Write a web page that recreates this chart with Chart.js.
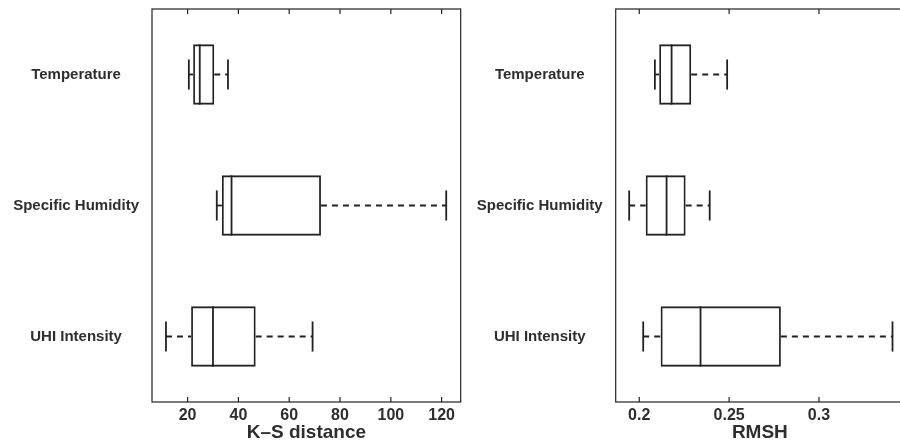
<!DOCTYPE html>
<html>
<head>
<meta charset="utf-8">
<script src="https://cdn.jsdelivr.net/npm/chart.js@4"></script>
<style>
  body { margin: 0; width: 900px; height: 444px; overflow: hidden; background: #fff; position: relative; }
  canvas { position: absolute; top: 0; }
</style>
</head>
<body>
<canvas id="ksChart" width="470" height="444" style="left:0"></canvas>
<canvas id="rmshChart" width="460" height="444" style="left:450px"></canvas>
<script>
// categories, top to bottom
var categories = ['Temperature', 'Specific Humidity', 'UHI Intensity'];

// K-S distance box stats
var ksMin    = [20.5, 31.5, 11.5];
var ksQ1     = [22.2, 33.5, 21.4];
var ksMedian = [24.8, 37.3, 30.0];
var ksQ3     = [30.5, 72.5, 46.8];
var ksMax    = [35.9, 121.8, 69.2];

// RMSH box stats
var rmshMin    = [0.2087, 0.1944, 0.2022];
var rmshQ1     = [0.2111, 0.2036, 0.2119];
var rmshMedian = [0.2180, 0.2152, 0.2341];
var rmshQ3     = [0.2289, 0.2258, 0.2788];
var rmshMax    = [0.2489, 0.2392, 0.3409];

var ksTicks = [20, 40, 60, 80, 100, 120];
var rmshTicks = [0.2, 0.25, 0.3];

var ink = '#222';
var textColor = '#2e2e2e';

function line(ctx, x1, y1, x2, y2) {
  ctx.beginPath();
  ctx.moveTo(x1, y1);
  ctx.lineTo(x2, y2);
  ctx.stroke();
}

// median, whiskers and caps on top of the floating bars
var whiskerPlugin = {
  id: 'whiskers',
  afterDatasetsDraw: function(chart) {
    var ds = chart.data.datasets[0];
    var xs = chart.scales.x;
    var ctx = chart.ctx;
    ctx.save();
    ctx.strokeStyle = ink;
    ctx.lineWidth = 1.8;
    chart.getDatasetMeta(0).data.forEach(function(bar, i) {
      var y = bar.y, h = bar.height;
      var lo = xs.getPixelForValue(ds.whiskerMin[i]);
      var q1 = xs.getPixelForValue(ds.data[i][0]);
      var q3 = xs.getPixelForValue(ds.data[i][1]);
      var hi = xs.getPixelForValue(ds.whiskerMax[i]);
      var med = xs.getPixelForValue(ds.median[i]);
      ctx.setLineDash([]);
      line(ctx, med, y - h / 2, med, y + h / 2);
      line(ctx, lo, y - h / 4, lo, y + h / 4);
      line(ctx, hi, y - h / 4, hi, y + h / 4);
      ctx.setLineDash([6, 5]);
      line(ctx, lo, y, q1, y);
      line(ctx, q3, y, hi, y);
    });
    ctx.restore();
  }
};

// axes frame with inward ticks, matlab style
var framePlugin = {
  id: 'frame',
  afterDraw: function(chart) {
    var a = chart.chartArea, ctx = chart.ctx, xs = chart.scales.x;
    ctx.save();
    ctx.strokeStyle = ink;
    ctx.lineWidth = 1.2;
    ctx.strokeRect(a.left, a.top, a.right - a.left, a.bottom - a.top);
    xs.ticks.forEach(function(t) {
      var px = xs.getPixelForValue(t.value);
      line(ctx, px, a.top, px, a.top + 5);
      line(ctx, px, a.bottom, px, a.bottom - 5);
    });
    ctx.restore();
  }
};

function makeBox(id, q1, q3, med, lo, hi, xMin, xMax, step, title, yWidth, padRight, fmt) {
  return new Chart(document.getElementById(id), {
    type: 'bar',
    data: {
      labels: categories,
      datasets: [{
        data: categories.map(function(c, i) { return [q1[i], q3[i]]; }),
        median: med,
        whiskerMin: lo,
        whiskerMax: hi,
        backgroundColor: 'rgba(0,0,0,0)',
        borderColor: ink,
        borderWidth: 1.8,
        borderSkipped: false,
        barPercentage: 0.46,
        categoryPercentage: 1
      }]
    },
    options: {
      indexAxis: 'y',
      responsive: false,
      animation: false,
      layout: { padding: { top: 9, right: padRight, left: 0, bottom: 0 } },
      plugins: { legend: { display: false }, tooltip: { enabled: false } },
      scales: {
        y: {
          grid: { display: false, drawTicks: false },
          border: { display: false },
          ticks: {
            crossAlign: 'center',
            padding: 13,
            color: textColor,
            font: { family: 'Liberation Sans, Arial, sans-serif', size: 15, weight: 'bold' }
          },
          afterFit: function(s) { s.width = yWidth; s.paddingTop = 0; s.paddingBottom = 0; }
        },
        x: {
          type: 'linear',
          min: xMin,
          max: xMax,
          grid: { display: false, drawTicks: false },
          border: { display: false },
          ticks: {
            stepSize: step,
            includeBounds: false,
            padding: 4,
            color: textColor,
            font: { family: 'Liberation Sans, Arial, sans-serif', size: 16, weight: 'bold' },
            callback: fmt
          },
          title: {
            display: true,
            text: title,
            color: textColor,
            padding: { top: 0, bottom: 0 },
            font: { family: 'Liberation Sans, Arial, sans-serif', size: 19, weight: 'bold' }
          },
          afterFit: function(s) { s.height = 42; }
        }
      }
    },
    plugins: [whiskerPlugin, framePlugin]
  });
}

makeBox('ksChart', ksQ1, ksQ3, ksMedian, ksMin, ksMax, 6, 127.5, 20, 'K\u2013S distance', 152, 9.3,
  function(v) { return ksTicks.indexOf(v) >= 0 ? String(v) : ''; });

makeBox('rmshChart', rmshQ1, rmshQ3, rmshMedian, rmshMin, rmshMax, 0.1869, 0.3473, 0.05, 'RMSH', 165.7, 6,
  function(v) { return String(+v.toFixed(3)); });
</script>
</body>
</html>
